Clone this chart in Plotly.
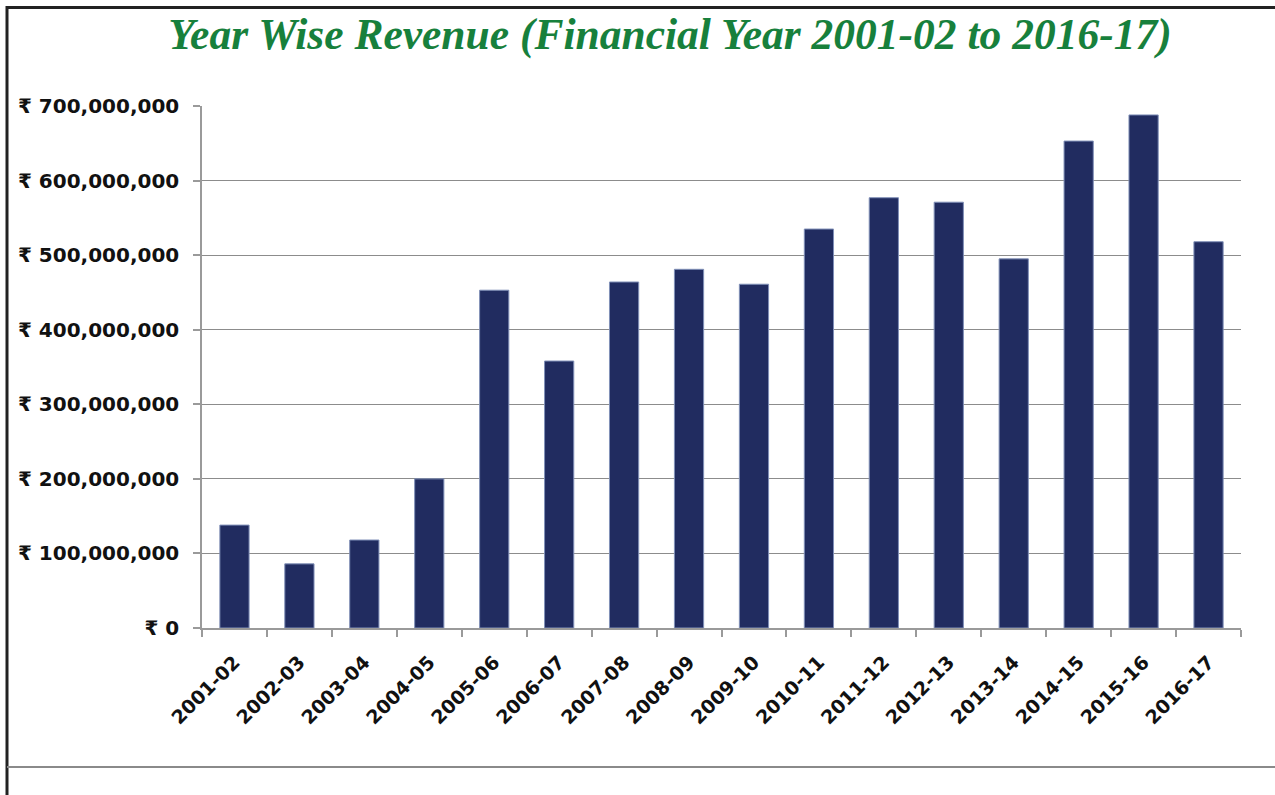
import plotly.graph_objects as go

years = ["2001-02", "2002-03", "2003-04", "2004-05", "2005-06", "2006-07", "2007-08",
         "2008-09", "2009-10", "2010-11", "2011-12", "2012-13", "2013-14", "2014-15",
         "2015-16", "2016-17"]
revenue = [138000000, 86000000, 118000000, 200000000, 453000000, 358000000, 464000000,
           481000000, 461000000, 535000000, 577000000, 571000000, 495000000, 653000000,
           688000000, 518000000]
y_ticks = [0, 100000000, 200000000, 300000000, 400000000, 500000000, 600000000, 700000000]
y_tick_text = ["₹ 0", "₹ 100,000,000", "₹ 200,000,000", "₹ 300,000,000", "₹ 400,000,000",
               "₹ 500,000,000", "₹ 600,000,000", "₹ 700,000,000"]
title_text = "Year Wise Revenue (Financial Year 2001-02 to 2016-17)"

W, H = 1275, 795
L, R, T, B = 202, 34, 106, 167
pw, ph = W - L - R, H - T - B

def px_x(p):
    return (p - L) / pw

def px_y(p):
    return (H - B - p) / ph

fig = go.Figure(go.Bar(
    x=years, y=revenue, width=0.45,
    marker=dict(color="#212c60", line=dict(color="#8090b8", width=1)),
))

tick_font = dict(family="DejaVu Sans", size=19, color="#111111", weight="bold")
ytick_font = dict(family="DejaVu Sans", size=20, color="#111111", weight="bold")

fig.update_layout(
    width=W, height=H,
    margin=dict(l=L, r=R, t=T, b=B),
    paper_bgcolor="white", plot_bgcolor="white",
    showlegend=False,
    title=dict(text=title_text, x=670 / W, xanchor="center", y=1 - 34 / H, yanchor="middle",
               yref="container",
               font=dict(family="Liberation Serif, Times New Roman, serif", size=43.5,
                         color="#17803c", style="italic", weight="bold")),
    xaxis=dict(type="category", tickangle=-45, tickfont=tick_font, ticklabelstandoff=14,
               showline=True, linecolor="#9a9a9a", linewidth=1.5,
               ticks="outside", tickson="boundaries", ticklen=7, tickcolor="#9a9a9a",
               tickwidth=1.5, showgrid=False),
    yaxis=dict(range=[0, 700000000], tickvals=y_ticks, ticktext=y_tick_text,
               tickfont=ytick_font, ticklabelstandoff=10,
               showline=True, linecolor="#9a9a9a", linewidth=1.5,
               ticks="outside", ticklen=7, tickcolor="#9a9a9a", tickwidth=1.5,
               showgrid=True, gridcolor="#8c8c8c", gridwidth=1.2, zeroline=False),
    shapes=[
        dict(type="line", xref="paper", yref="paper", x0=px_x(7), x1=px_x(7),
             y0=px_y(6), y1=px_y(800), line=dict(color="#222222", width=3)),
        dict(type="line", xref="paper", yref="paper", x0=px_x(6), x1=px_x(1280),
             y0=px_y(7.5), y1=px_y(7.5), line=dict(color="#222222", width=3)),
        dict(type="line", xref="paper", yref="paper", x0=px_x(7), x1=px_x(1280),
             y0=px_y(767), y1=px_y(767), line=dict(color="#8a8a8a", width=2)),
    ],
)

fig.write_html("out.html", config={"displayModeBar": False},
               post_script="document.body.style.margin='0';document.body.style.overflow='hidden';")
